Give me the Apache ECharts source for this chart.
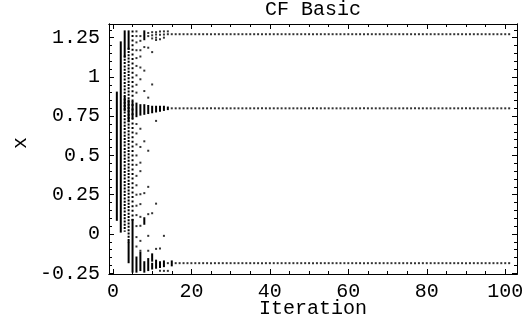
<!DOCTYPE html>
<html><head><meta charset="utf-8">
<script src="https://cdn.jsdelivr.net/npm/echarts@6/dist/echarts.min.js"></script>
<style>html,body{margin:0;padding:0;background:#fff}#c{width:528px;height:335px}</style>
</head><body><div id="c"></div>
<script>
// ---------- data ----------
const chartTitle = 'CF Basic';
const xName = 'Iteration';
const yName = 'x';
const xTicks = [0, 20, 40, 60, 80, 100];
const xMinorTicks = [0, 5, 10, 15, 20, 25, 30, 35, 40, 45, 50, 55, 60, 65, 70, 75, 80, 85, 90, 95, 100];
const yTicks = [-0.25, 0, 0.25, 0.5, 0.75, 1, 1.25];
const yMinorTicks = [-0.25, -0.2, -0.15, -0.1, -0.05, 0, 0.05, 0.1, 0.15, 0.2, 0.25, 0.3, 0.35, 0.4, 0.45, 0.5,
  0.55, 0.6, 0.65, 0.7, 0.75, 0.8, 0.85, 0.9, 0.95, 1, 1.05, 1.1, 1.15, 1.2, 1.25, 1.3];

// continuous runs of points: [iteration, low, high]
const solidRuns = [
  [1, 0.09, 0.90],
  [2, 0.015, 1.22],
  [3, 1.13, 1.29], [3, 0.79, 0.87],
  [4, 1.18, 1.29], [4, 0.72, 0.85], [4, -0.18, -0.05],
  [5, 0.74, 0.84], [5, -0.24, 0.09],
  [6, 0.75, 0.83], [6, -0.24, -0.15],
  [7, 0.76, 0.82], [7, -0.23, -0.12],
  [8, 1.24, 1.29], [8, 0.765, 0.82], [8, 0.065, 0.10], [8, -0.24, -0.18],
  [9, 0.77, 0.815], [9, -0.23, -0.16],
  [10, 0.775, 0.81], [10, -0.17, -0.13], [10, -0.22, -0.19],
  [11, 0.78, 0.81], [11, -0.215, -0.17],
  [12, 0.785, 0.81], [12, -0.21, -0.18],
  [13, 0.79, 0.81], [13, -0.205, -0.175],
  [14, 0.795, 0.805],
  [15, -0.20, -0.175]
];
// densely dotted runs: [iteration, low, high]
const fineDottedRuns = [
  [3, 0.02, 1.13],
  [4, -0.05, 1.18]
];
// loosely dotted runs: [iteration, low, high]
const wideDottedRuns = [
  [5, 0.09, 1.29]
];
// isolated points: [iteration, value]
const loosePoints = [
  [6, 1.29], [6, 1.26], [6, 1.22], [6, 1.17], [6, 1.12], [6, 1.07], [6, 1.01], [6, 0.95], [6, 0.90],
  [6, 0.70], [6, 0.64], [6, 0.57], [6, 0.50], [6, 0.44], [6, 0.37], [6, 0.31], [6, 0.25], [6, 0.18],
  [6, 0.12], [6, 0.05], [6, -0.02], [6, -0.08],
  [7, 1.26], [7, 1.23], [7, 1.17], [7, 1.13], [7, 1.06], [7, 0.985], [7, 0.67], [7, 0.554], [7, 0.454],
  [7, 0.40], [7, 0.253], [7, 0.19], [7, 0.109], [7, 0.052], [7, -0.044], [7, -0.107],
  [8, 1.19], [8, 1.04], [8, 0.91], [8, 0.59], [8, 0.26],
  [9, 1.28], [9, 1.26], [9, 1.186], [9, 0.868], [9, 0.53], [9, 0.30], [9, 0.126], [9, -0.012], [9, -0.107],
  [10, 1.285], [10, 1.265], [10, 1.245], [10, 1.158], [10, 0.952], [10, 0.132],
  [11, 1.285], [11, 1.27], [11, 1.25], [11, 1.235], [11, 0.72], [11, 0.193], [11, -0.095],
  [12, 1.29], [12, 1.268], [12, 1.24], [12, -0.093], [12, -0.235],
  [13, 1.29], [13, 1.27], [13, 1.25], [13, -0.012], [13, -0.235],
  [14, 1.29], [14, 1.272], [14, -0.235], [14, -0.186],
  [15, 1.272], [15, 0.80]
];
// iterations after which the three values no longer change, and those values
const settledIterations = [16, 17, 18, 19, 20, 21, 22, 23, 24, 25, 26, 27, 28, 29, 30, 31, 32, 33, 34, 35,
  36, 37, 38, 39, 40, 41, 42, 43, 44, 45, 46, 47, 48, 49, 50, 51, 52, 53, 54, 55, 56, 57, 58, 59, 60,
  61, 62, 63, 64, 65, 66, 67, 68, 69, 70, 71, 72, 73, 74, 75, 76, 77, 78, 79, 80, 81, 82, 83, 84, 85,
  86, 87, 88, 89, 90, 91, 92, 93, 94, 95, 96, 97, 98, 99, 100, 101];
const settledValues = [1.272, 0.80, -0.186];

// ---------- chart ----------
const FONT = 'Liberation Mono';
const FS = 20;
const X_MIN = -1, X_MAX = 103, Y_MIN = -0.255, Y_MAX = 1.337;

const settledPoints = [];
settledIterations.forEach(it => settledValues.forEach(v => settledPoints.push([it, v])));

function runRenderer(dash) {
  return function (params, api) {
    const a = api.coord([api.value(0), api.value(2)]);
    const b = api.coord([api.value(0), api.value(1)]);
    return {
      type: 'line',
      shape: { x1: a[0], y1: a[1] - 1, x2: b[0], y2: b[1] + 1 },
      style: { stroke: '#000', lineWidth: 2, lineDash: dash }
    };
  };
}

function xAx(pos, ticks, len, labels) {
  return {
    type: 'value', min: X_MIN, max: X_MAX, position: pos,
    axisLine: { show: true, onZero: false, lineStyle: { color: '#000', width: 1 } },
    axisTick: { show: true, inside: true, length: len, customValues: ticks, lineStyle: { color: '#000' } },
    axisLabel: labels ? { show: true, customValues: ticks, margin: 8, color: '#000', fontFamily: FONT, fontSize: FS } : { show: false },
    splitLine: { show: false }
  };
}
function yAx(pos, ticks, len, labels) {
  return {
    type: 'value', min: Y_MIN, max: Y_MAX, position: pos,
    axisLine: { show: true, onZero: false, lineStyle: { color: '#000', width: 1 } },
    axisTick: { show: true, inside: true, length: len, customValues: ticks, lineStyle: { color: '#000' } },
    axisLabel: labels ? { show: true, customValues: ticks, margin: 9, color: '#000', fontFamily: FONT, fontSize: FS,
      formatter: v => String(v) } : { show: false },
    splitLine: { show: false }
  };
}

const xMain = xAx('bottom', xTicks, 5, true);
xMain.name = xName; xMain.nameLocation = 'middle'; xMain.nameGap = 25; xMain.nameMoveOverlap = false;
xMain.nameTextStyle = { fontFamily: FONT, fontSize: FS, color: '#000' };
const yMain = yAx('left', yTicks, 5, true);
yMain.name = yName; yMain.nameLocation = 'middle'; yMain.nameGap = 78; yMain.nameRotate = 90; yMain.nameMoveOverlap = false;
yMain.nameTextStyle = { fontFamily: FONT, fontSize: FS, color: '#000', padding: [0, 0, 0, 12] };

const chart = echarts.init(document.getElementById('c'), null, { renderer: 'canvas' });
chart.setOption({
  animation: false,
  backgroundColor: '#fff',
  title: {
    text: chartTitle, left: 313, top: 0, textAlign: 'center', padding: 0,
    textStyle: { fontFamily: FONT, fontSize: FS, fontWeight: 'normal', color: '#000' }
  },
  grid: { left: 109, right: 11, top: 24, bottom: 61, containLabel: false },
  xAxis: [xMain, xAx('bottom', xMinorTicks, 3, false), xAx('top', xTicks, 5, false), xAx('top', xMinorTicks, 3, false)],
  yAxis: [yMain, yAx('left', yMinorTicks, 3, false), yAx('right', yTicks, 5, false), yAx('right', yMinorTicks, 3, false)],
  series: [
    { type: 'custom', renderItem: runRenderer(null), data: solidRuns, xAxisIndex: 0, yAxisIndex: 0, silent: true },
    { type: 'custom', renderItem: runRenderer([2, 1.3]), data: fineDottedRuns, xAxisIndex: 0, yAxisIndex: 0, silent: true },
    { type: 'custom', renderItem: runRenderer([2, 2.6]), data: wideDottedRuns, xAxisIndex: 0, yAxisIndex: 0, silent: true },
    { type: 'scatter', symbol: 'rect', symbolSize: 2, itemStyle: { color: '#000' }, data: loosePoints, silent: true },
    { type: 'scatter', symbol: 'rect', symbolSize: 2, itemStyle: { color: '#000' }, data: settledPoints, silent: true }
  ]
});
</script></body></html>
